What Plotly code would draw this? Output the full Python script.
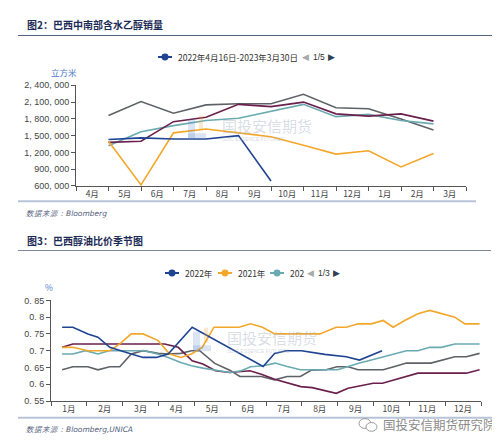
import plotly.graph_objects as go

# ---------------- Data: figure 2 (monthly sales, m3) ----------------
months_top = ["4月", "5月", "6月", "7月", "8月", "9月", "10月", "11月", "12月", "1月", "2月", "3月"]
top_x = [1, 2, 3, 4, 5, 6, 7, 8, 9, 10, 11]  # month-end positions
sales_blue = [1430000, 1460000, 1440000, 1440000, 1500000, 690000]
sales_orange = [1400000, 620000, 1550000, 1620000, 1550000, 1480000, 1330000, 1170000, 1230000, 940000, 1180000]
sales_gray = [1860000, 2110000, 1900000, 2050000, 2070000, 2070000, 2240000, 2000000, 1980000, 1800000, 1600000]
sales_purple = [1380000, 1400000, 1750000, 1830000, 2060000, 2020000, 2100000, 1890000, 1850000, 1890000, 1760000]
sales_teal = [1320000, 1570000, 1680000, 1770000, 1810000, 1930000, 2060000, 1840000, 1880000, 1770000, 1710000]
top_yticks = [600000, 900000, 1200000, 1500000, 1800000, 2100000, 2400000]
top_yticktext = ["600, 000", "900, 000", "1, 200, 000", "1, 500, 000", "1, 800, 000", "2, 100, 000", "2, 400, 000"]

# ---------------- Data: figure 3 (ethanol/gasoline parity, seasonal) ----------------
months_bot = ["1月", "2月", "3月", "4月", "5月", "6月", "7月", "8月", "9月", "10月", "11月", "12月"]
r2022_x = [0.31, 0.61, 1.03, 1.31, 1.64, 1.92, 2.24, 2.57, 2.94, 3.27, 3.94, 5.92, 6.24, 6.57, 6.99, 7.64, 8.24, 8.61, 9.24]
r2022_y = [0.77, 0.77, 0.75, 0.74, 0.71, 0.70, 0.69, 0.68, 0.68, 0.69, 0.77, 0.653, 0.692, 0.70, 0.70, 0.689, 0.682, 0.672, 0.70]
r2021_x = [0.31, 0.61, 1.03, 1.64, 1.92, 2.24, 2.57, 2.99, 3.31, 3.62, 3.92, 4.22, 4.55, 5.25, 5.57, 5.9, 6.24, 7.5, 7.96, 8.24, 8.57, 8.94, 9.27, 9.55, 9.87, 10.24, 10.57, 10.89, 11.27, 11.55, 11.96]
r2021_y = [0.71, 0.71, 0.70, 0.70, 0.72, 0.75, 0.75, 0.73, 0.69, 0.68, 0.69, 0.71, 0.77, 0.77, 0.78, 0.77, 0.75, 0.75, 0.77, 0.77, 0.78, 0.78, 0.79, 0.77, 0.79, 0.81, 0.82, 0.81, 0.80, 0.78, 0.78]
r2020_x = [0.31, 0.61, 0.96, 1.31, 1.62, 1.96, 2.61, 2.97, 3.27, 3.62, 3.92, 4.24, 4.55, 4.99, 5.31, 5.57, 5.92, 6.26, 6.59, 6.96, 8.0, 8.29, 8.61, 8.94, 9.27, 9.59, 9.92, 10.24, 10.57, 10.89, 11.27, 11.59, 11.96]
r2020_y = [0.69, 0.69, 0.70, 0.69, 0.70, 0.70, 0.70, 0.69, 0.68, 0.665, 0.655, 0.648, 0.642, 0.635, 0.64, 0.652, 0.655, 0.663, 0.653, 0.643, 0.643, 0.653, 0.663, 0.672, 0.682, 0.692, 0.70, 0.70, 0.71, 0.71, 0.72, 0.72, 0.72]
rgray_x = [0.31, 0.61, 1.03, 1.31, 1.64, 1.92, 2.24, 2.57, 2.99, 3.27, 3.62, 3.92, 4.15, 4.57, 4.99, 5.27, 5.87, 6.24, 6.59, 6.96, 7.27, 7.68, 7.98, 8.29, 8.57, 9.27, 9.59, 9.92, 10.6, 10.89, 11.27, 11.59, 11.96]
rgray_y = [0.643, 0.652, 0.652, 0.643, 0.652, 0.652, 0.69, 0.70, 0.692, 0.69, 0.692, 0.70, 0.70, 0.662, 0.642, 0.623, 0.623, 0.613, 0.623, 0.623, 0.642, 0.643, 0.652, 0.652, 0.643, 0.643, 0.653, 0.663, 0.663, 0.672, 0.682, 0.682, 0.692]
rpurple_x = [0.31, 0.61, 3.17, 3.55, 3.94, 4.24, 4.59, 4.99, 5.55, 5.87, 6.24, 6.61, 6.97, 7.29, 7.68, 7.96, 8.29, 8.66, 8.99, 9.25, 9.59, 9.92, 10.24, 11.59, 11.96]
rpurple_y = [0.71, 0.72, 0.72, 0.71, 0.67, 0.66, 0.64, 0.635, 0.64, 0.63, 0.615, 0.605, 0.593, 0.59, 0.58, 0.573, 0.588, 0.597, 0.603, 0.603, 0.613, 0.623, 0.633, 0.633, 0.643]
bot_yticks = [0.55, 0.6, 0.65, 0.7, 0.75, 0.8, 0.85]
bot_yticktext = ["0. 55", "0. 6", "0. 65", "0. 7", "0. 75", "0. 8", "0. 85"]

C_BLUE = "#1f4492"
C_ORANGE = "#f3a72a"
C_TEAL = "#6aaab0"
C_GRAY = "#5e6268"
C_PURPLE = "#6a1f4c"

W, H = 500, 442


def px(x):
    return x / W


def py(y):
    return 1 - y / H


fig = go.Figure()

# top chart traces
for xs, ys, c in [
    (top_x, sales_gray, C_GRAY),
    (top_x, sales_teal, C_TEAL),
    (top_x, sales_purple, C_PURPLE),
    (top_x, sales_orange, C_ORANGE),
    (top_x[:len(sales_blue)], sales_blue, C_BLUE),
]:
    fig.add_trace(go.Scatter(x=xs, y=ys, mode="lines", line=dict(color=c, width=1.6),
                             xaxis="x", yaxis="y", showlegend=False, hoverinfo="skip"))

# bottom chart traces
for xs, ys, c in [
    (rgray_x, rgray_y, C_GRAY),
    (rpurple_x, rpurple_y, C_PURPLE),
    (r2020_x, r2020_y, C_TEAL),
    (r2021_x, r2021_y, C_ORANGE),
    (r2022_x, r2022_y, C_BLUE),
]:
    fig.add_trace(go.Scatter(x=xs, y=ys, mode="lines", line=dict(color=c, width=1.6),
                             xaxis="x2", yaxis="y2", showlegend=False, hoverinfo="skip"))

tickfont = dict(family="Liberation Sans, Arial, sans-serif", size=9, color="#444")
cjk_tickfont = dict(family="Noto Sans CJK SC, sans-serif", size=8.5, color="#444")
axcol = "#555"

fig.update_layout(
    width=W, height=H, margin=dict(l=0, r=0, t=0, b=0),
    paper_bgcolor="white", plot_bgcolor="white",
    xaxis=dict(domain=[px(68), px(458)], range=[0, 12], anchor="y",
               tickvals=[i + 0.5 for i in range(12)], ticktext=months_top, ticks="",
               tickfont=cjk_tickfont, showline=True, linecolor=axcol, linewidth=1,
               showgrid=False, zeroline=False, fixedrange=True,
               minor=dict(ticks="outside", tickvals=list(range(13)), ticklen=4, tickcolor=axcol, showgrid=False)),
    yaxis=dict(domain=[py(177), py(74)], range=[600000, 2400000], anchor="x",
               tickvals=top_yticks, ticktext=top_yticktext, ticks="outside", ticklen=4,
               tickcolor=axcol, tickfont=tickfont, showline=True, linecolor=axcol, linewidth=1,
               showgrid=False, zeroline=False),
    xaxis2=dict(domain=[px(43), px(473)], range=[0, 12], anchor="y2",
                tickvals=[i + 0.5 for i in range(12)], ticktext=months_bot, ticks="",
                tickfont=cjk_tickfont, showline=True, linecolor=axcol, linewidth=1,
                showgrid=False, zeroline=False,
                minor=dict(ticks="outside", tickvals=list(range(13)), ticklen=4, tickcolor=axcol, showgrid=False)),
    yaxis2=dict(domain=[py(397), py(294)], range=[0.55, 0.85], anchor="x2",
                tickvals=bot_yticks, ticktext=bot_yticktext, ticks="outside", ticklen=4,
                tickcolor=axcol, tickfont=tickfont, showline=True, linecolor=axcol, linewidth=1,
                showgrid=False, zeroline=False),
)

shapes = []
ann = []

# title rules and bottom rules
shapes.append(dict(type="line", xref="paper", yref="paper", x0=px(10), x1=px(490), y0=py(23), y1=py(23),
                   line=dict(color="#50607e", width=1)))
shapes.append(dict(type="line", xref="paper", yref="paper", x0=px(10), x1=px(468), y0=py(192.5), y1=py(192.5),
                   line=dict(color="#b7c4d8", width=2)))
shapes.append(dict(type="line", xref="paper", yref="paper", x0=px(10), x1=px(483), y0=py(243), y1=py(243),
                   line=dict(color="#7c8696", width=1)))
shapes.append(dict(type="line", xref="paper", yref="paper", x0=px(10), x1=px(497), y0=py(414), y1=py(414),
                   line=dict(color="#b7c4d8", width=2)))

title_font = dict(family="Noto Sans CJK SC, sans-serif", size=10, color="#1c2b55")
ann.append(dict(text="<b>图2：巴西中南部含水乙醇销量</b>", x=px(17), y=py(12), xanchor="left", yanchor="middle",
                showarrow=False, xref="paper", yref="paper", font=title_font))
ann.append(dict(text="<b>图3：巴西醇油比价季节图</b>", x=px(17), y=py(233), xanchor="left", yanchor="middle",
                showarrow=False, xref="paper", yref="paper", font=title_font))

src_font = dict(family="DejaVu Sans, sans-serif", size=7.5, color="#51607e")
ann.append(dict(text="<i>数据来源：Bloomberg</i>", x=px(16), y=py(205), xanchor="left", yanchor="middle",
                showarrow=False, xref="paper", yref="paper", font=src_font))
ann.append(dict(text="<i>数据来源：Bloomberg,UNICA</i>", x=px(16), y=py(426), xanchor="left", yanchor="middle",
                showarrow=False, xref="paper", yref="paper", font=src_font))

unit_font = dict(family="Noto Sans CJK SC, sans-serif", size=8.5, color="#4a78c8")
ann.append(dict(text="立方米", x=px(56), y=py(60), xanchor="center", yanchor="middle",
                showarrow=False, xref="paper", yref="paper", font=unit_font))
ann.append(dict(text="%", x=px(41), y=py(280), xanchor="center", yanchor="middle",
                showarrow=False, xref="paper", yref="paper", font=unit_font))

leg_font = dict(family="Noto Sans CJK SC, sans-serif", size=8.5, color="#333")


def legend_item(x0, y, color, label):
    shapes.append(dict(type="line", xref="paper", yref="paper", x0=px(x0), x1=px(x0 + 14), y0=py(y), y1=py(y),
                       line=dict(color=color, width=2)))
    shapes.append(dict(type="circle", xref="paper", yref="paper", x0=px(x0 + 3.5), x1=px(x0 + 10.5),
                       y0=py(y + 3.5), y1=py(y - 3.5), fillcolor=color, line=dict(color=color, width=0)))
    ann.append(dict(text=label, x=px(x0 + 18), y=py(y), xanchor="left", yanchor="middle",
                    showarrow=False, xref="paper", yref="paper", font=leg_font))


def pager(x, y, label):
    ann.append(dict(text="◀", x=px(x), y=py(y), xanchor="center", yanchor="middle", showarrow=False,
                    xref="paper", yref="paper", font=dict(family="DejaVu Sans", size=9, color="#aaa")))
    ann.append(dict(text=label, x=px(x + 6), y=py(y), xanchor="left", yanchor="middle", showarrow=False,
                    xref="paper", yref="paper", font=dict(family="Liberation Sans", size=8.5, color="#333")))
    ann.append(dict(text="▶", x=px(x + 26), y=py(y), xanchor="center", yanchor="middle", showarrow=False,
                    xref="paper", yref="paper", font=dict(family="DejaVu Sans", size=9, color="#2f3f55")))


legend_item(150, 45, C_BLUE, "2022年4月16日-2023年3月30日")
pager(297, 45, "1/5")
legend_item(157, 266, C_BLUE, "2022年")
legend_item(210, 266, C_ORANGE, "2021年")
legend_item(262, 266, C_TEAL, "202")
pager(302, 266, "1/3")

# center watermarks
wm_font = dict(family="Noto Sans CJK SC, sans-serif", size=15, color="rgba(170,180,195,0.45)")
for (lx, ly) in [(200, 117), (205, 334)]:
    shapes.append(dict(type="rect", xref="paper", yref="paper", x0=px(lx - 20), x1=px(lx - 13),
                       y0=py(ly + 12), y1=py(ly - 8), fillcolor="rgba(90,130,200,0.22)", line=dict(width=0)))
    shapes.append(dict(type="rect", xref="paper", yref="paper", x0=px(lx - 20), x1=px(lx - 2),
                       y0=py(ly + 12), y1=py(ly + 6), fillcolor="rgba(90,130,200,0.22)", line=dict(width=0)))
    shapes.append(dict(type="rect", xref="paper", yref="paper", x0=px(lx - 9), x1=px(lx - 5),
                       y0=py(ly + 3), y1=py(ly - 12), fillcolor="rgba(240,160,60,0.25)", line=dict(width=0)))
    ann.append(dict(text="国投安信期货", x=px(lx + 12), y=py(ly - 2), xanchor="left", yanchor="middle",
                    showarrow=False, xref="paper", yref="paper", font=wm_font))
    ann.append(dict(text="SDIC ESSENCE FUTURES", x=px(lx + 12), y=py(ly + 12), xanchor="left", yanchor="middle",
                    showarrow=False, xref="paper", yref="paper",
                    font=dict(family="Liberation Sans", size=5, color="rgba(170,180,195,0.5)")))

# bottom-right wechat watermark
shapes.append(dict(type="circle", xref="paper", yref="paper", x0=px(351), x1=px(363), y0=py(425), y1=py(415),
                   line=dict(color="#9a9a9a", width=1)))
shapes.append(dict(type="circle", xref="paper", yref="paper", x0=px(358), x1=px(369), y0=py(428), y1=py(419),
                   line=dict(color="#9a9a9a", width=1), fillcolor="white"))
ann.append(dict(text="国投安信期货研究院", x=px(373), y=py(421), xanchor="left", yanchor="middle",
                showarrow=False, xref="paper", yref="paper",
                font=dict(family="Noto Sans CJK SC, sans-serif", size=12.5, color="#8a8a8a")))

fig.update_layout(shapes=shapes, annotations=ann)
fig.write_html("out.html")
